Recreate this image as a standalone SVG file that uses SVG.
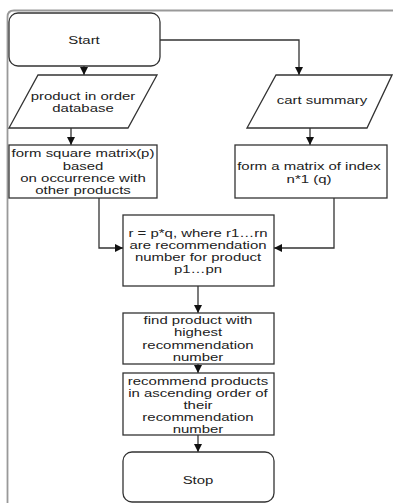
<svg xmlns="http://www.w3.org/2000/svg" width="393" height="503" viewBox="0 0 393 503">
<style>
.shape{fill:#fff;stroke:#333;stroke-width:1.3}
.conn{fill:none;stroke:#333;stroke-width:1.3;marker-end:url(#ah)}
text{font-family:"Liberation Sans",Arial,sans-serif;font-size:11.5px;fill:#222;text-anchor:middle}
</style>
<defs>
<marker id="ah" markerUnits="userSpaceOnUse" markerWidth="9" markerHeight="9" refX="8" refY="4" orient="auto">
<path d="M0,0 L8,4 L0,8 z" fill="#111"/>
</marker>
</defs>
<rect width="393" height="503" fill="#fff"/>
<path d="M393,10.5 H14 Q7.5,10.5 7.5,17 V503" fill="none" stroke="#999" stroke-width="1.8"/>
<g id="connectors">
<path class="conn" d="M84,66 V75"/>
<path class="conn" d="M160,40 H299 V75"/>
<path class="conn" d="M71,128 V145"/>
<path class="conn" d="M310,128 V145"/>
<path class="conn" d="M99,198 V248 H123"/>
<path class="conn" d="M334,198 V248 H274"/>
<path class="conn" d="M198,286 V313"/>
<path class="conn" d="M198,364 V373"/>
<path class="conn" d="M198,435 V452"/>
</g>
<g id="start">
<rect class="shape" x="9" y="13" width="151" height="53" rx="9"/>
<text transform="translate(84,44) scale(1.3,1)">Start</text>
</g>
<g id="product-db">
<polygon class="shape" points="38,75 157,75 128,128 9,128"/>
<text transform="translate(83,0) scale(1.3,1)"><tspan x="0" y="100">product in order</tspan><tspan x="0" y="112">database</tspan></text>
</g>
<g id="cart-summary">
<polygon class="shape" points="276,75 392,75 367,128 247,128"/>
<text transform="translate(322,104) scale(1.3,1)">cart summary</text>
</g>
<g id="square-matrix">
<rect class="shape" x="9" y="145" width="148" height="53"/>
<text transform="translate(83,0) scale(1.3,1)"><tspan x="0" y="157">form square matrix(p)</tspan><tspan x="0" y="170">based</tspan><tspan x="0" y="182.5">on occurrence with</tspan><tspan x="0" y="194.5">other products</tspan></text>
</g>
<g id="index-matrix">
<rect class="shape" x="235" y="145" width="152" height="53"/>
<text transform="translate(309,0) scale(1.3,1)"><tspan x="0" y="170">form a matrix of index</tspan><tspan x="0" y="183">n*1 (q)</tspan></text>
</g>
<g id="compute-r">
<rect class="shape" x="123" y="215" width="151" height="71"/>
<text transform="translate(198,0) scale(1.3,1)"><tspan x="0" y="237">r = p*q, where r1…rn</tspan><tspan x="0" y="249">are recommendation</tspan><tspan x="0" y="261">number for product</tspan><tspan x="0" y="273">p1…pn</tspan></text>
</g>
<g id="find-highest">
<rect class="shape" x="123" y="313" width="151" height="51"/>
<text transform="translate(198,0) scale(1.3,1)"><tspan x="0" y="324">find product with</tspan><tspan x="0" y="336">highest</tspan><tspan x="0" y="349">recommendation</tspan><tspan x="0" y="361">number</tspan></text>
</g>
<g id="recommend">
<rect class="shape" x="123" y="373" width="151" height="62"/>
<text transform="translate(198,0) scale(1.3,1)"><tspan x="0" y="385">recommend products</tspan><tspan x="0" y="397">in ascending order of</tspan><tspan x="0" y="409">their</tspan><tspan x="0" y="421">recommendation</tspan><tspan x="0" y="433">number</tspan></text>
</g>
<g id="stop">
<rect class="shape" x="123" y="452" width="151" height="50" rx="9"/>
<text transform="translate(198,484) scale(1.3,1)">Stop</text>
</g>
</svg>
